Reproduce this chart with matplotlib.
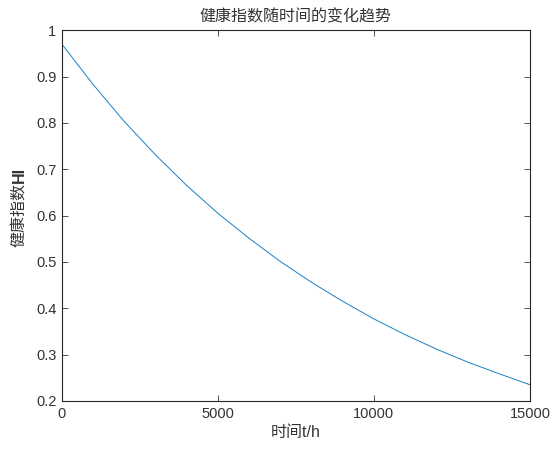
import matplotlib
matplotlib.use('Agg')
import matplotlib.pyplot as plt

plt.rcParams['font.family'] = ['Liberation Sans', 'Noto Sans CJK SC', 'DejaVu Sans']

# readings of the curve, every 1000 h
hours = [0, 1000, 2000, 3000, 4000, 5000, 6000, 7000, 8000,
         9000, 10000, 11000, 12000, 13000, 14000, 15000]
hi = [0.970, 0.883, 0.803, 0.731, 0.665, 0.605, 0.551, 0.501, 0.456,
      0.415, 0.377, 0.343, 0.312, 0.284, 0.259, 0.235]
xticks = [0, 5000, 10000, 15000]
yticks = [0.2, 0.3, 0.4, 0.5, 0.6, 0.7, 0.8, 0.9, 1.0]
ytick_labels = ['0.2', '0.3', '0.4', '0.5', '0.6', '0.7', '0.8', '0.9', '1']

fig = plt.figure(figsize=(5.52, 4.5), dpi=100)
ax = fig.add_axes([0.112, 0.109, 0.848, 0.824])

ax.plot(hours, hi, color=(0.1, 0.5, 0.78), linewidth=0.7)

ax.set_xlim(0, 15000)
ax.set_ylim(0.2, 1.0)
ax.set_xticks(xticks)
ax.set_yticks(yticks)
ax.set_yticklabels(ytick_labels)
ax.tick_params(direction='in', top=True, right=True, length=4, width=0.6,
               labelsize=10.5, colors='#333333', pad=4)
for s in ax.spines.values():
    s.set_linewidth(0.8)
    s.set_color('#262626')

ax.set_title('健康指数随时间的变化趋势', fontsize=11.5, color='#333333', pad=6)
ax.set_xlabel('时间t/h', fontsize=11.5, color='#333333', labelpad=3)

# y label: Chinese part regular, "HI" bold
fig.text(0.036, 0.593, '健康指数', rotation=90, ha='center', va='top',
         fontsize=11.5, color='#333333')
fig.text(0.036, 0.593, 'HI', rotation=90, ha='center', va='bottom',
         fontsize=11.5, fontweight='bold', color='#333333')

fig.savefig('out.png', dpi=100)
